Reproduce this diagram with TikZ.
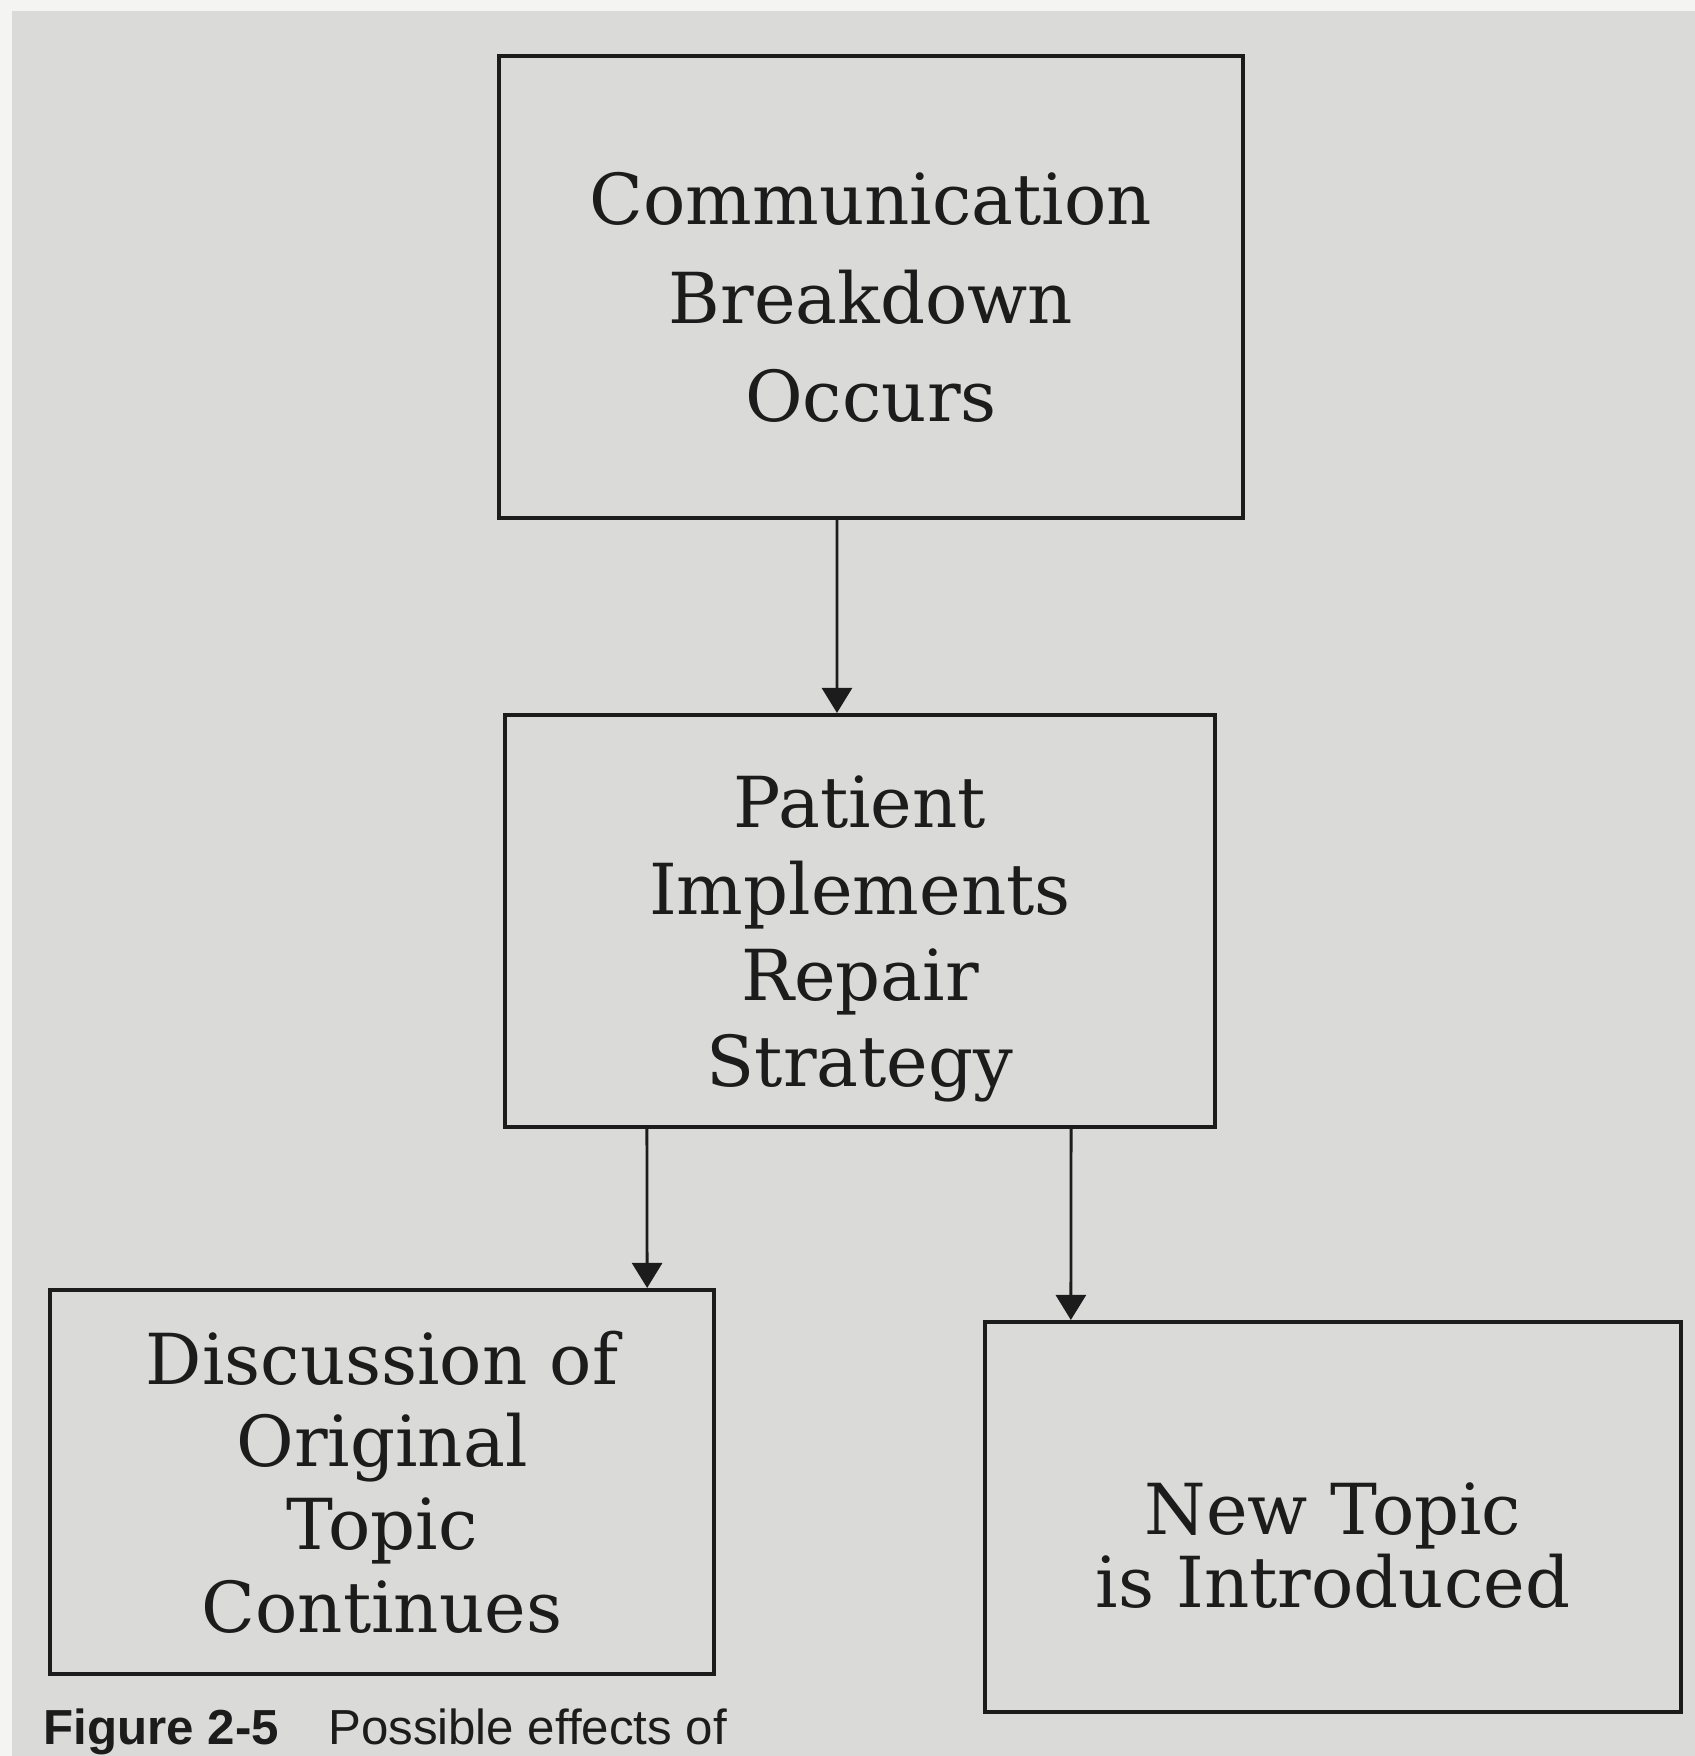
\documentclass[tikz,border=0pt]{standalone}
\usepackage{fontspec}
\setmainfont{DejaVu Serif}
\newfontfamily\capfont{Liberation Sans}
\usetikzlibrary{arrows.meta,positioning}
\definecolor{paper}{RGB}{218,218,216}
\definecolor{ink}{RGB}{28,28,28}
% extra room above the first line, pushes the text down in its box
\newcommand{\topgap}[1]{\rule{0pt}{#1}}

\begin{document}
\begin{tikzpicture}[x=0.01cm, y=-0.01cm,
            box/.style = {draw=ink, line width=1.1pt, inner sep=0pt, align=center, text=ink},
            arr/.style = {draw=ink, line width=0.8pt, -{Triangle[width=0.3cm,length=0.25cm]}},
            boxfont/.style = {font=\fontsize{20}{#1}\selectfont}
            ]
            % page
            \fill[paper] (0,0) rectangle (1695,1756);
            \fill[white!70!paper] (0,0) rectangle (12,1756);
            \fill[white!70!paper] (0,0) rectangle (1695,11);
            \useasboundingbox (0,0) rectangle (1695,1756);

            \node[box, boxfont=28pt, minimum width=7.43cm, minimum height=4.61cm] (breakdown) at (871,287)
                {\topgap{21pt}Communication\\Breakdown\\Occurs};
            \node[box, boxfont=24.5pt, minimum width=7.09cm, minimum height=4.12cm] (repair) at (860,921)
                {\topgap{25pt}Patient\\Implements\\Repair\\Strategy};
            \node[box, boxfont=23.5pt, minimum width=6.64cm, minimum height=3.84cm] (original) at (382,1482)
                {Discussion of\\Original\\Topic\\Continues};
            \node[box, boxfont=21pt, minimum width=6.95cm, minimum height=3.90cm] (newtopic) at (1333,1517)
                {\topgap{31pt}New Topic\\is Introduced};

            \draw[arr] ([xshift=-0.34cm]breakdown.south) -- ([xshift=-0.23cm]repair.north);
            \draw[arr] ([xshift=-2.13cm]repair.south) -- ([xshift=2.65cm]original.north);
            \draw[arr] ([xshift=2.11cm]repair.south) -- ([xshift=-2.62cm]newtopic.north);

            % caption
            \node[anchor=north west, inner sep=0pt, text=ink, font=\capfont\fontsize{14}{17}\selectfont] (caption) at (43,1708)
                {\textbf{Figure 2-5}\quad Possible effects of};
        \end{tikzpicture}
\end{document}
